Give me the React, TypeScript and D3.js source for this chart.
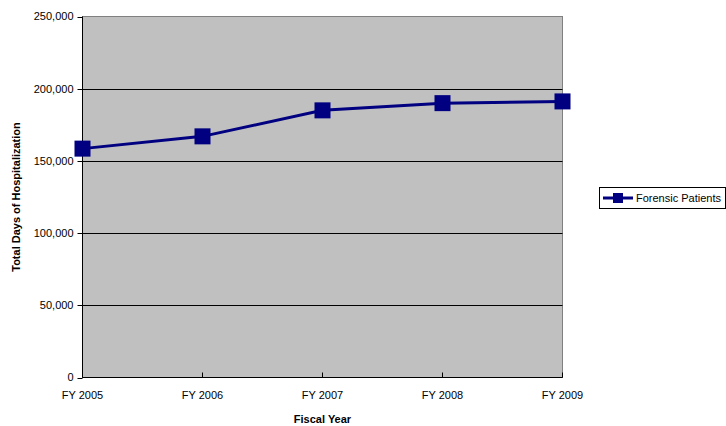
import React from "react";
import * as d3 from "d3";

const categories = ["FY 2005", "FY 2006", "FY 2007", "FY 2008", "FY 2009"];
const forensicPatients = [158500, 167000, 185000, 190000, 191200];
const yTicks = [0, 50000, 100000, 150000, 200000, 250000];
const seriesName = "Forensic Patients";

export default function App() {
  const W = 726, H = 426;
  const left = 82.5, right = 562.5, top = 16.5, bottom = 377.5;
  const x = d3.scalePoint<string>().domain(categories).range([left, right]);
  const y = d3.scaleLinear().domain([0, 250000]).range([bottom, top]);
  const line = d3.line<number>().x((_, i) => x(categories[i])!).y((d) => y(d));
  const fmt = d3.format(",");
  const font = "Liberation Sans, Arial, sans-serif";
  const navy = "#000080";
  return (
    <svg width={W} height={H} style={{ position: "absolute", left: 0, top: 0 }} fontFamily={font}>
      <rect x={0} y={0} width={W} height={H} fill="#fff" />
      <rect x={left} y={top} width={right - left} height={bottom - top} fill="#c0c0c0" stroke="#808080" strokeWidth={1} />
      {yTicks.slice(1, -1).map((t) => (
        <line key={t} x1={left} x2={right} y1={Math.round(y(t)) + 0.5} y2={Math.round(y(t)) + 0.5} stroke="#000" strokeWidth={1} />
      ))}
      <line x1={left} x2={left} y1={top} y2={bottom} stroke="#000" />
      <line x1={left} x2={right} y1={bottom} y2={bottom} stroke="#000" />
      {yTicks.map((t) => (
        <g key={t}>
          <line x1={left - 5} x2={left} y1={Math.round(y(t)) + 0.5} y2={Math.round(y(t)) + 0.5} stroke="#000" />
          <text x={left - 9} y={y(t)} dy="0.35em" textAnchor="end" fontSize={11} fill="#000">{fmt(t)}</text>
        </g>
      ))}
      {categories.map((c) => (
        <g key={c}>
          <line x1={x(c)} x2={x(c)} y1={bottom} y2={bottom - 5} stroke="#000" />
          <text x={x(c)} y={bottom + 21} textAnchor="middle" fontSize={11} fill="#000">{c}</text>
        </g>
      ))}
      <text x={(left + right) / 2} y={423} textAnchor="middle" fontSize={11} fontWeight="bold">Fiscal Year</text>
      <text transform={`translate(20,${(top + bottom) / 2}) rotate(-90)`} textAnchor="middle" fontSize={11} fontWeight="bold">Total Days of Hospitalization</text>
      <path d={line(forensicPatients)!} fill="none" stroke={navy} strokeWidth={3} />
      {forensicPatients.map((v, i) => (
        <rect key={i} x={x(categories[i])! - 8} y={y(v) - 8} width={16} height={16} fill={navy} />
      ))}
      <g>
        <rect x={599.5} y={187.5} width={126} height={21} fill="#fff" stroke="#000" />
        <line x1={603} x2={633} y1={198} y2={198} stroke={navy} strokeWidth={3} />
        <rect x={613} y={193} width={10} height={10} fill={navy} />
        <text x={636} y={198} dy="0.35em" fontSize={11}>{seriesName}</text>
      </g>
    </svg>
  );
}
